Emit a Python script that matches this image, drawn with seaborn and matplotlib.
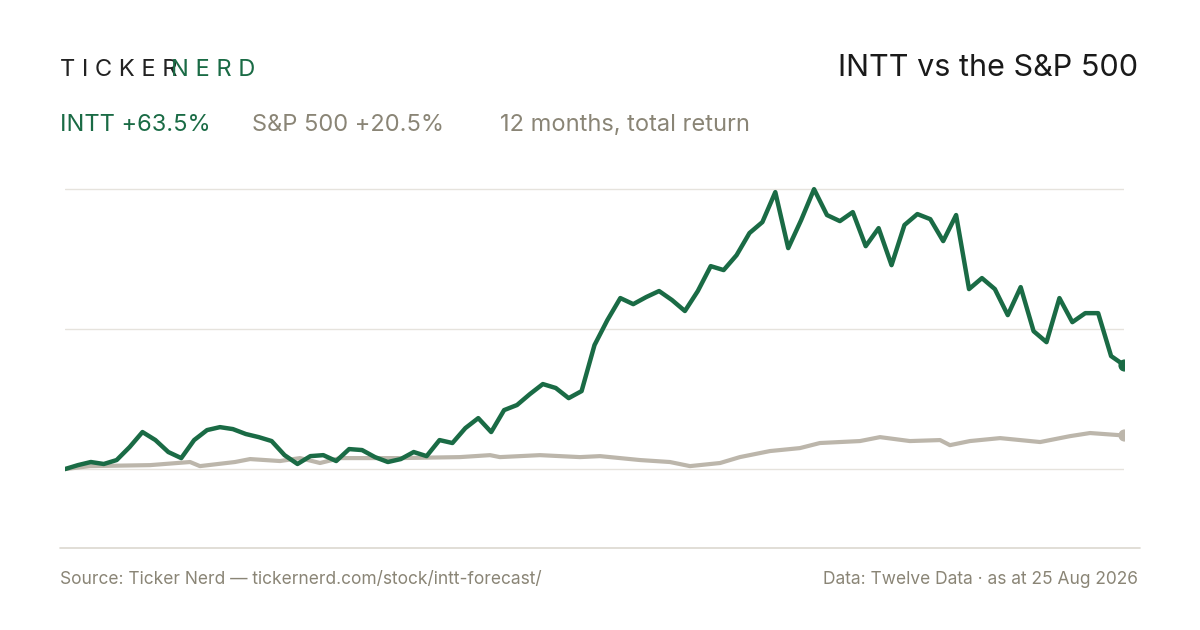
import numpy as np
import pandas as pd
import matplotlib.pyplot as plt
import seaborn as sns
from matplotlib.lines import Line2D

sns.set_style("white")
plt.rcParams['font.family'] = ['Inter', 'DejaVu Sans']

# 12个月累计收益（%），按时间均匀采样
intt_ret = [0, 2.4, 4.3, 3.1, 5.5, 13.4, 22.6, 17.7, 10.4, 6.7, 17.7, 23.8, 25.6, 24.4, 21.4,
            19.5, 17.1, 8.5, 3.1, 7.9, 8.5, 4.9, 12.2, 11.6, 7.3, 4.3, 6.1, 10.4, 7.9, 17.7,
            15.9, 25.0, 31.1, 22.6, 36.0, 39.1, 45.8, 51.9, 49.5, 43.3, 47.6, 75.7, 91.0, 104.4,
            100.7, 105.0, 108.7, 103.2, 96.5, 108.7, 123.9, 121.5, 130.6, 144.1, 150.8, 169.1,
            134.9, 152.0, 170.9, 155.1, 151.4, 156.9, 136.1, 147.1, 124.5, 149.0, 155.7, 152.6,
            139.2, 155.1, 109.9, 116.6, 109.9, 94.0, 111.1, 84.2, 77.5, 104.4, 89.7, 95.2, 95.2,
            69.0, 63.5]
intt_day = np.linspace(0, 365, len(intt_ret))

sp_day = [0, 8.6, 29.3, 43.1, 46.5, 58.6, 63.8, 74.1, 81, 87.9, 94.8, 115.5, 136.1, 146.5,
          149.9, 163.7, 177.5, 184.4, 198.2, 208.5, 215.4, 225.8, 232.6, 243, 253.3, 260.2,
          274, 280.9, 291.2, 301.6, 305, 311.9, 322.3, 336.1, 346.4, 353.3, 365]
sp_ret = [0, 1.8, 2.4, 4.3, 1.8, 4.3, 6.1, 4.9, 6.7, 3.7, 6.7, 6.7, 7.3, 8.5, 7.3, 8.5, 7.3,
          7.9, 5.5, 4.3, 1.8, 3.7, 7.3, 11.0, 12.8, 15.9, 17.1, 19.5, 17.1, 17.7, 14.6, 17.1,
          18.9, 16.5, 20.1, 22.0, 20.5]
grid_levels = [0, 85.5, 171]

GREEN = '#1a6b45'
GREY = '#bcb6ab'
TXT = '#8a8576'

fig = plt.figure(figsize=(12, 6.3), dpi=100)
ax = fig.add_axes([65/1200, 1-548/630, (1124-65)/1200, (548-180)/630])

for g in grid_levels:
    ax.axhline(g, color='#e6e3dd', lw=1, zorder=0)

sns.lineplot(x=sp_day, y=sp_ret, ax=ax, color=GREY, lw=3)
sns.lineplot(x=intt_day, y=intt_ret, ax=ax, color=GREEN, lw=3.2)
ax.scatter([sp_day[-1]], [sp_ret[-1]], s=60, color=GREY, zorder=5)
ax.scatter([intt_day[-1]], [intt_ret[-1]], s=60, color=GREEN, zorder=5)

ax.set_xlim(0, 365)
ax.set_ylim(-48.2, 176.5)
ax.axis('off')

fig.add_artist(Line2D([60/1200, 1140/1200], [1-548/630]*2, color='#dcd8d0', lw=1.2))

fig.text(60/1200, 1-70/630, 'T I C K E R', fontsize=17, color='#222222', va='center')
fig.text(171/1200, 1-70/630, 'N E R D', fontsize=17, color=GREEN, va='center')
fig.text(1138/1200, 1-68/630, 'INTT vs the S&P 500', fontsize=22, color='#1a1a1a',
         ha='right', va='center')
fig.text(60/1200, 1-125/630, 'INTT +63.5%', fontsize=17, color=GREEN, va='center')
fig.text(252/1200, 1-125/630, 'S&P 500 +20.5%', fontsize=17, color=TXT, va='center')
fig.text(500/1200, 1-125/630, '12 months, total return', fontsize=17, color=TXT, va='center')
fig.text(60/1200, 1-580/630, 'Source: Ticker Nerd — tickernerd.com/stock/intt-forecast/',
         fontsize=12.5, color=TXT, va='center')
fig.text(1138/1200, 1-580/630, 'Data: Twelve Data · as at 25 Aug 2026', fontsize=12.5,
         color=TXT, ha='right', va='center')

fig.savefig('out.png', dpi=100, facecolor='white')
